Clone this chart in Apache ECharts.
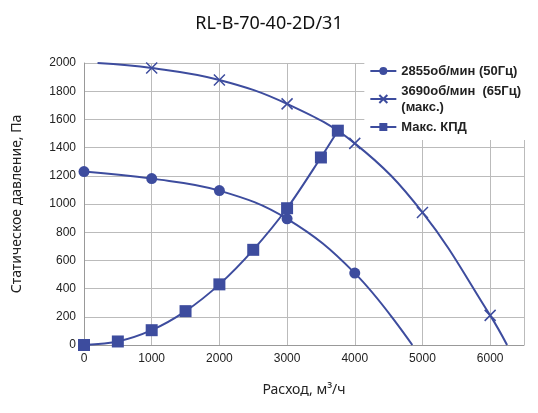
<html>
<head>
<meta charset="utf-8" />
<script src="https://cdn.jsdelivr.net/npm/echarts@6/dist/echarts.min.js"></script>
<style>
    body { margin: 0; overflow: hidden; background: #fff; }
    #chart { width: 538px; height: 413px; }
</style>
</head>
<body>
<div id="chart"></div>
<script type="text/javascript">
    // [расход, давление]; null symbol = curve end without marker
    var s50 = [[0, 1230], [1000, 1180], [2000, 1095], [3000, 895], [4000, 510], [4850, 0]];
    var s65 = [[200, 2000], [1000, 1965], [2000, 1880], [3000, 1710], [4000, 1430], [5000, 940], [6000, 210], [6250, 0]];
    var sKpd = [[0, 0], [500, 25], [1000, 105], [1500, 240], [2000, 430], [2500, 675], [3000, 970], [3500, 1330], [3750, 1520]];
    var names = ['2855об/мин (50Гц)', '3690об/мин  (65Гц)\n(макс.)', 'Макс. КПД'];
    var blue = '#3d4c9e';

    function hideEnds(arr, first, last) {
        return arr.map(function (p, i) {
            var d = { value: p };
            if ((first && i === 0) || (last && i === arr.length - 1)) d.symbol = 'none';
            return d;
        });
    }
    function plain(v) { return String(v); }

    var chart = echarts.init(document.getElementById('chart'));
    chart.setOption({
        animation: false,
        title: {
            text: 'RL-B-70-40-2D/31', left: 'center', top: 10,
            textStyle: { fontFamily: 'Noto Sans', fontWeight: 'normal', fontSize: 18, color: '#111' }
        },
        legend: {
            data: names, orient: 'vertical', right: 12, top: 58,
            backgroundColor: '#fff', itemGap: 4, itemWidth: 26, itemHeight: 10,
            textStyle: { fontFamily: 'Arial', fontWeight: 'bold', fontSize: 13, color: '#222', lineHeight: 16 }
        },
        grid: { left: 84, right: 14, top: 63, bottom: 68 },
        xAxis: {
            type: 'value', min: 0, max: 6500, interval: 1000,
            name: 'Расход, м³/ч', nameLocation: 'middle', nameGap: 38,
            nameTextStyle: { fontFamily: 'Noto Sans', fontSize: 14, color: '#222' },
            axisLabel: { showMaxLabel: false, color: '#222', fontFamily: 'Arial', fontSize: 12, formatter: plain },
            axisLine: { lineStyle: { color: '#999' } },
            axisTick: { show: false },
            splitLine: { lineStyle: { color: '#bbb' } }
        },
        yAxis: {
            type: 'value', min: 0, max: 2000, interval: 200,
            name: 'Статическое давление, Па', nameLocation: 'middle', nameGap: 60,
            nameTextStyle: { fontFamily: 'Noto Sans', fontSize: 14, color: '#222' },
            axisLabel: { color: '#222', fontFamily: 'Arial', fontSize: 12, formatter: plain },
            axisLine: { show: true, lineStyle: { color: '#999' } },
            axisTick: { show: false },
            splitLine: { lineStyle: { color: '#bbb' } }
        },
        series: [{
            name: names[0], type: 'line', smooth: 0.4, data: hideEnds(s50, false, true),
            symbol: 'circle', symbolSize: 11,
            itemStyle: { color: blue }, lineStyle: { color: blue, width: 2 }
        }, {
            name: names[1], type: 'line', smooth: 0.4, data: hideEnds(s65, true, true),
            symbol: 'path://M0,0L10,10M10,0L0,10', symbolSize: 11,
            itemStyle: { color: 'none', borderColor: blue, borderWidth: 1.5 }, lineStyle: { color: blue, width: 2 }
        }, {
            name: names[2], type: 'line', smooth: 0.3, data: sKpd,
            symbol: 'rect', symbolSize: 12,
            itemStyle: { color: blue }, lineStyle: { color: blue, width: 2 }
        }]
    });
</script>
</body>
</html>
